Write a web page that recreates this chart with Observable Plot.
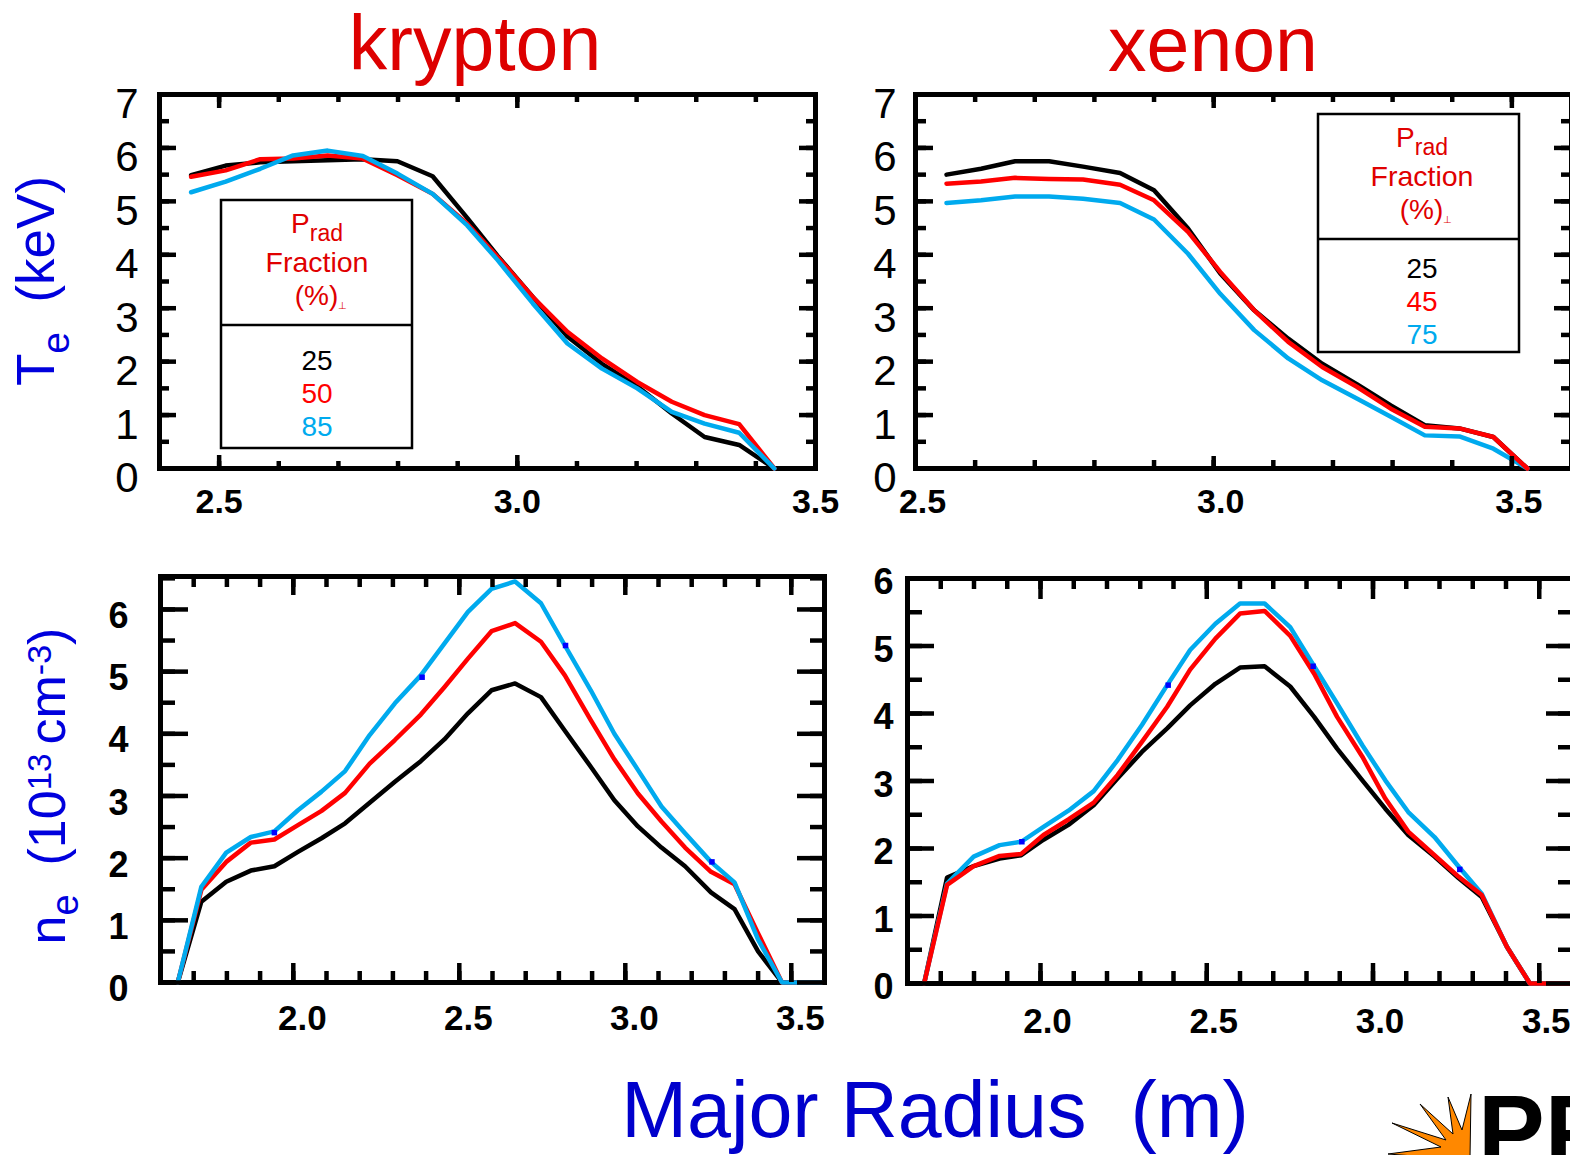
<!DOCTYPE html>
<html><head><meta charset="utf-8">
<script src="https://cdn.jsdelivr.net/npm/d3@7"></script>
<script src="https://cdn.jsdelivr.net/npm/@observablehq/plot@0.6"></script>
<style>
html,body{margin:0;padding:0;background:#fff;}
#page{position:relative;width:1570px;height:1155px;overflow:hidden;background:#fff;font-family:"Liberation Sans",Arial,Helvetica,sans-serif;}
#overlay{position:absolute;left:0;top:0;}
</style></head><body><div id="page"></div>
<script>
// ---------- DATA ----------
const seriesColors = ["#000000", "#ff0000", "#00aaee"];
const titles = ["krypton", "xenon"];
const krLegend = ["25", "50", "85"];
const xeLegend = ["25", "45", "75"];

// Krypton Te (keV)
const krTeR  = [2.453, 2.511, 2.569, 2.624, 2.682, 2.741, 2.799, 2.858, 2.916, 2.967, 3.026, 3.084, 3.142, 3.201, 3.259, 3.314, 3.372, 3.431];
const krTe25 = [5.49, 5.67, 5.73, 5.75, 5.77, 5.79, 5.75, 5.47, 4.69, 3.98, 3.21, 2.47, 1.96, 1.54, 1.03, 0.59, 0.44, 0];
const krTe50 = [5.46, 5.58, 5.79, 5.80, 5.86, 5.80, 5.49, 5.14, 4.58, 3.96, 3.21, 2.56, 2.06, 1.62, 1.25, 1.00, 0.83, 0];
const krTe85 = [5.17, 5.37, 5.61, 5.86, 5.95, 5.85, 5.52, 5.14, 4.55, 3.90, 3.09, 2.34, 1.87, 1.50, 1.06, 0.84, 0.67, 0];

// Xenon Te (keV)
const xeTeR  = [2.552, 2.610, 2.667, 2.724, 2.781, 2.843, 2.900, 2.957, 3.011, 3.068, 3.125, 3.182, 3.240, 3.297, 3.354, 3.412, 3.469, 3.526];
const xeTe25 = [5.50, 5.61, 5.75, 5.75, 5.65, 5.53, 5.21, 4.49, 3.65, 2.96, 2.43, 1.96, 1.58, 1.18, 0.81, 0.75, 0.59, 0];
const xeTe45 = [5.33, 5.37, 5.44, 5.42, 5.41, 5.31, 5.02, 4.43, 3.68, 2.96, 2.37, 1.90, 1.53, 1.12, 0.78, 0.75, 0.59, 0];
const xeTe75 = [4.97, 5.02, 5.09, 5.09, 5.05, 4.97, 4.66, 4.02, 3.27, 2.59, 2.06, 1.65, 1.31, 0.97, 0.62, 0.60, 0.37, 0];

// Krypton ne (1e13 cm^-3)
const krNeR  = [1.652, 1.723, 1.798, 1.872, 1.943, 2.014, 2.085, 2.156, 2.230, 2.306, 2.384, 2.455, 2.526, 2.597, 2.668, 2.746, 2.818, 2.896, 2.967, 3.038, 3.109, 3.180, 3.258, 3.329, 3.400, 3.472, 3.590];
const krNe25 = [0, 1.30, 1.62, 1.80, 1.87, 2.10, 2.32, 2.56, 2.89, 3.23, 3.56, 3.91, 4.33, 4.70, 4.81, 4.59, 4.05, 3.47, 2.93, 2.51, 2.17, 1.87, 1.45, 1.18, 0.50, 0, 0];
const krNe50 = [0, 1.49, 1.94, 2.25, 2.30, 2.53, 2.76, 3.05, 3.52, 3.90, 4.31, 4.75, 5.21, 5.65, 5.78, 5.48, 4.94, 4.22, 3.59, 3.04, 2.59, 2.17, 1.78, 1.58, 0.79, 0, 0];
const krNe85 = [0, 1.54, 2.09, 2.34, 2.43, 2.77, 3.07, 3.40, 3.98, 4.49, 4.94, 5.45, 5.96, 6.33, 6.45, 6.10, 5.42, 4.70, 4.00, 3.42, 2.83, 2.40, 1.94, 1.61, 0.69, 0, 0];
const krNeMarkR = [1.943, 2.388, 2.820, 3.261];
const krNeMarkV = [2.41, 4.91, 5.42, 1.94];

// Xenon ne (1e13 cm^-3)
const xeNeR  = [1.650, 1.719, 1.799, 1.877, 1.942, 2.009, 2.084, 2.160, 2.232, 2.305, 2.381, 2.450, 2.526, 2.600, 2.674, 2.751, 2.823, 2.892, 2.968, 3.037, 3.106, 3.185, 3.258, 3.327, 3.403, 3.472, 3.600];
const xeNe25 = [0, 1.57, 1.74, 1.85, 1.90, 2.13, 2.35, 2.64, 3.04, 3.43, 3.78, 4.12, 4.44, 4.68, 4.70, 4.40, 3.95, 3.48, 3.01, 2.59, 2.20, 1.88, 1.56, 1.28, 0.54, 0, 0];
const xeNe45 = [0, 1.46, 1.74, 1.89, 1.92, 2.20, 2.43, 2.68, 3.09, 3.58, 4.10, 4.65, 5.11, 5.48, 5.52, 5.15, 4.59, 3.95, 3.36, 2.74, 2.25, 1.90, 1.58, 1.31, 0.54, 0, 0];
const xeNe75 = [0, 1.48, 1.88, 2.05, 2.10, 2.32, 2.56, 2.85, 3.31, 3.83, 4.42, 4.94, 5.33, 5.63, 5.63, 5.28, 4.70, 4.15, 3.53, 3.01, 2.54, 2.17, 1.73, 1.33, 0.54, 0, 0];
const xeNeMarkR = [1.944, 2.384, 2.820, 3.261];
const xeNeMarkV = [2.10, 4.42, 4.70, 1.69];

// Tick values
const teXMajor = [2.5, 3.0, 3.5];
const neXMajor = [2.0, 2.5, 3.0, 3.5];
const teYMajor = [0, 1, 2, 3, 4, 5, 6, 7];
const neYMajor = [0, 1, 2, 3, 4, 5, 6];

// ---------- DRAW ----------
const FONT = '"Liberation Sans", Arial, Helvetica, sans-serif';
const page = document.getElementById("page");
const rng = (a, b, s) => d3.range(Math.round(a / s), Math.round(b / s) + 1).map(i => +(i * s).toFixed(2));

function addPanel(cfg) {
  const [x0, y0, x1, y1] = cfg.frame;
  const ML = 100, MR = 10, MT = 10, MB = 70;
  const fw = x1 - x0, fh = y1 - y0;
  const marks = [Plot.frame({stroke: "black", strokeWidth: 5})];
  for (const s of cfg.series) {
    marks.push(Plot.line(cfg.r.map((r, i) => ({r, v: s.values[i]})),
      {x: "r", y: "v", stroke: s.color, strokeWidth: 4.5, strokeLinejoin: "round"}));
  }
  if (cfg.markR) {
    marks.push(Plot.dot(cfg.markR.map((r, i) => ({r, v: cfg.markV[i]})),
      {x: "r", y: "v", symbol: "square", r: 3.1, fill: "#0000ff", stroke: "none"}));
  }
  const t = {fill: "none", label: null, stroke: "black", strokeWidth: 4.5};
  const [xMaj, xMin, topMaj, topMin, yMaj, yMin] = cfg.tickLen;
  marks.push(
    Plot.axisX({...t, ticks: cfg.xMinor, anchor: "bottom", tickSize: -xMin}),
    Plot.axisX({...t, ticks: cfg.xMajor, anchor: "bottom", tickSize: -xMaj}),
    Plot.axisX({...t, ticks: cfg.xMinor, anchor: "top", tickSize: -topMin}),
    Plot.axisX({...t, ticks: cfg.xMajor, anchor: "top", tickSize: -topMaj}),
    Plot.axisY({...t, ticks: cfg.yMinor, anchor: "left", tickSize: -yMin}),
    Plot.axisY({...t, ticks: cfg.yMajor, anchor: "left", tickSize: -yMaj}),
    Plot.axisY({...t, ticks: cfg.yMinor, anchor: "right", tickSize: -yMin}),
    Plot.axisY({...t, ticks: cfg.yMajor, anchor: "right", tickSize: -yMaj}),
    Plot.axisX({ticks: cfg.xMajor, anchor: "bottom", tickSize: 0, tickPadding: cfg.xPad,
      tickFormat: d => d.toFixed(1), fontSize: cfg.xFont, fontWeight: "bold", dx: cfg.xDx, label: null, fill: "black"}),
    Plot.axisY({ticks: cfg.yMajor, anchor: "left", tickSize: 0, tickPadding: cfg.yPad,
      tickFormat: d => String(d), fontSize: cfg.yFont, fontWeight: cfg.yWeight, dy: cfg.yDy, label: null, fill: "black"})
  );
  const svg = Plot.plot({
    width: ML + fw + MR, height: MT + fh + MB,
    marginLeft: ML, marginRight: MR, marginTop: MT, marginBottom: MB,
    x: {type: "linear", domain: cfg.xDomain, axis: null, label: null},
    y: {type: "linear", domain: cfg.yDomain, axis: null, label: null},
    style: {fontFamily: FONT, background: "transparent", overflow: "visible"},
    marks
  });
  svg.style.position = "absolute";
  svg.style.left = (x0 - ML) + "px";
  svg.style.top = (y0 - MT) + "px";
  svg.style.maxWidth = "none";
  svg.style.background = "transparent";
  svg.style.overflow = "visible";
  page.appendChild(svg);
}

// krypton Te
addPanel({
  frame: [159, 94, 815, 468], xDomain: [2.4, 3.5], yDomain: [0, 7],
  r: krTeR,
  series: [{values: krTe25, color: seriesColors[0]}, {values: krTe50, color: seriesColors[1]}, {values: krTe85, color: seriesColors[2]}],
  xMajor: teXMajor, xMinor: rng(2.5, 3.5, 0.1), yMajor: teYMajor, yMinor: rng(0.5, 6.5, 0.5),
  tickLen: [13, 7, 13, 7, 17, 10],
  xPad: 20, xFont: 34, xDx: 0, yPad: 21, yFont: 42, yWeight: "normal", yDy: 10
});
// xenon Te
addPanel({
  frame: [915, 94, 1571, 468], xDomain: [2.5, 3.6], yDomain: [0, 7],
  r: xeTeR,
  series: [{values: xeTe25, color: seriesColors[0]}, {values: xeTe75, color: seriesColors[2]}, {values: xeTe45, color: seriesColors[1]}],
  xMajor: teXMajor, xMinor: rng(2.6, 3.5, 0.1), yMajor: teYMajor, yMinor: rng(0.5, 6.5, 0.5),
  tickLen: [12, 8, 13, 7, 18, 11],
  xPad: 20, xFont: 34, xDx: 7, yPad: 19, yFont: 42, yWeight: "normal", yDy: 10
});
// krypton ne
addPanel({
  frame: [160, 576, 824, 982], xDomain: [1.6, 3.6], yDomain: [0, 6.53],
  r: krNeR,
  series: [{values: krNe25, color: seriesColors[0]}, {values: krNe50, color: seriesColors[1]}, {values: krNe85, color: seriesColors[2]}],
  markR: krNeMarkR, markV: krNeMarkV,
  xMajor: neXMajor, xMinor: rng(1.7, 3.5, 0.1), yMajor: neYMajor, yMinor: rng(0.5, 6.5, 0.5),
  tickLen: [19, 11, 18, 10, 28, 15],
  xPad: 23, xFont: 35, xDx: 9, yPad: 32, yFont: 36, yWeight: "bold", yDy: 7
});
// xenon ne
addPanel({
  frame: [907, 578, 1572, 983], xDomain: [1.6, 3.6], yDomain: [0, 6],
  r: xeNeR,
  series: [{values: xeNe25, color: seriesColors[0]}, {values: xeNe75, color: seriesColors[2]}, {values: xeNe45, color: seriesColors[1]}],
  markR: xeNeMarkR, markV: xeNeMarkV,
  xMajor: neXMajor, xMinor: rng(1.7, 3.5, 0.1), yMajor: neYMajor, yMinor: rng(0.5, 5.5, 0.5),
  tickLen: [20, 12, 20, 10, 27, 15],
  xPad: 25, xFont: 35, xDx: 7, yPad: 14, yFont: 36, yWeight: "bold", yDy: 4
});

// ---------- OVERLAY TEXT ----------
function legendBox(x, y, w, h, cx, labels, numOffset) {
  const hdr = "#e00000";
  let s = `<rect x="${x}" y="${y}" width="${w}" height="${h}" fill="white" stroke="black" stroke-width="2.5"/>`;
  s += `<line x1="${x}" x2="${x + w}" y1="${y + 125}" y2="${y + 125}" stroke="black" stroke-width="2.5"/>`;
  s += `<text x="${cx}" y="${y + 33}" text-anchor="middle" font-size="28" fill="${hdr}">P<tspan font-size="23" dy="8">rad</tspan></text>`;
  s += `<text x="${cx}" y="${y + 72}" text-anchor="middle" font-size="28.5" fill="${hdr}">Fraction</text>`;
  s += `<text x="${cx + 4}" y="${y + 105}" text-anchor="middle" font-size="28" fill="${hdr}">(%)<tspan font-size="10" dx="0" dy="4">⊥</tspan></text>`;
  labels.forEach((l, i) => {
    s += `<text x="${cx}" y="${y + numOffset + 33 * i}" text-anchor="middle" font-size="28" fill="${seriesColors[i]}">${l}</text>`;
  });
  return s;
}

const overlay = `<svg id="overlay" xmlns="http://www.w3.org/2000/svg" width="1570" height="1155" style="font-family:${FONT.replace(/"/g, "'")}">
<text x="475" y="70" text-anchor="middle" font-size="77" fill="#dd0000">${titles[0]}</text>
<text x="1213" y="71" text-anchor="middle" font-size="77" fill="#dd0000">${titles[1]}</text>
<text transform="translate(54,281) rotate(-90)" text-anchor="middle" font-size="53" fill="#0000dd" style="white-space:pre">T<tspan font-size="39" dy="15">e</tspan><tspan dy="-15">  (keV)</tspan></text>
<text transform="translate(65,786) rotate(-90)" text-anchor="middle" font-size="52" fill="#0000dd" style="white-space:pre">n<tspan font-size="38" dy="13">e</tspan><tspan dy="-13">  (10</tspan><tspan font-size="33" dy="-14">13 </tspan><tspan dy="14">cm</tspan><tspan font-size="34" dy="-14">-3</tspan><tspan dy="14">)</tspan></text>
<text x="935" y="1137" text-anchor="middle" font-size="79" fill="#0000cc" style="white-space:pre">Major Radius  (m)</text>
${legendBox(221, 200, 191, 248, 317, krLegend, 170)}
${legendBox(1318, 114, 201, 238, 1422, xeLegend, 164)}
<polygon points="1470,1158 1471,1094 1462,1130 1448,1097 1453,1134 1420,1104 1446,1140 1392,1123 1441,1147 1388,1154 1440,1158" fill="#ff8800" stroke="black" stroke-width="1"/>
<text x="1478" y="1165" font-size="100" font-weight="bold" fill="black">PP</text>
</svg>`;
page.insertAdjacentHTML("beforeend", overlay);
</script></body></html>
